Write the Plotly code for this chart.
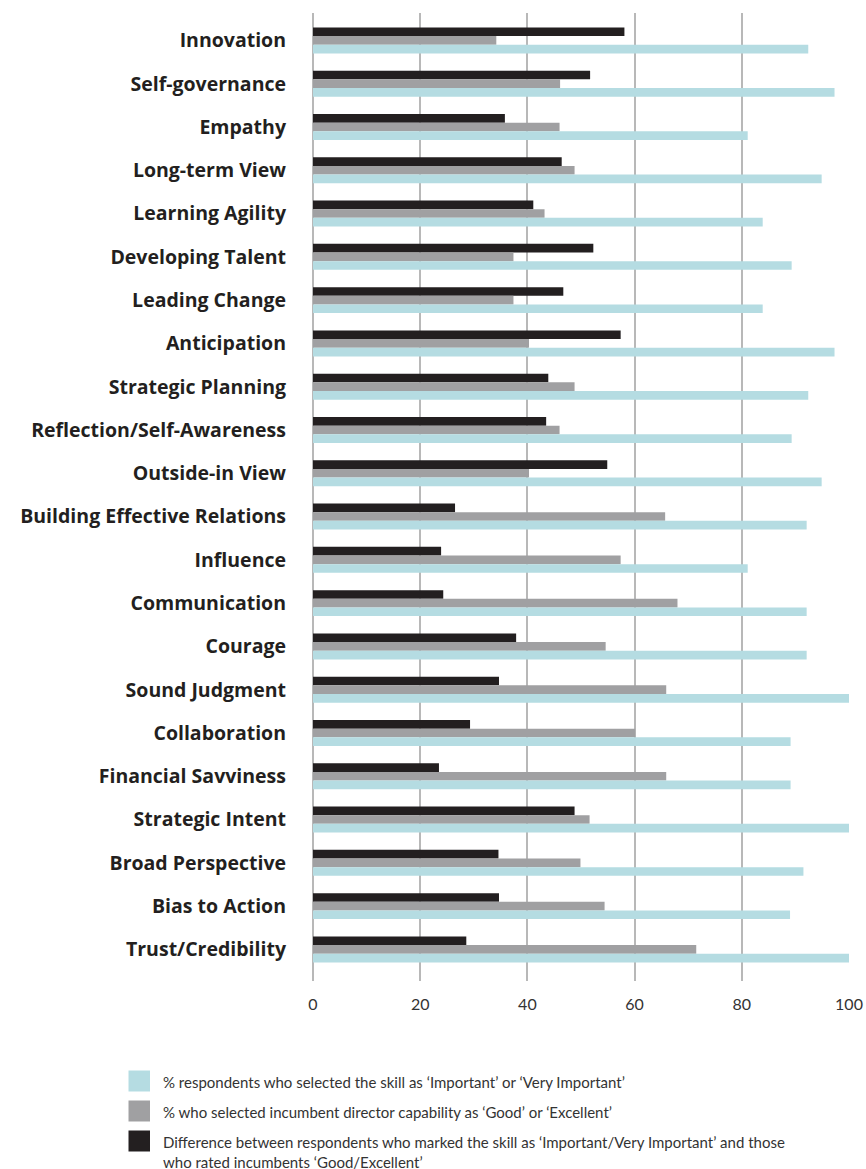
import plotly.graph_objects as go

categories = [
    "Innovation", "Self-governance", "Empathy", "Long-term View", "Learning Agility",
    "Developing Talent", "Leading Change", "Anticipation", "Strategic Planning",
    "Reflection/Self-Awareness", "Outside-in View", "Building Effective Relations",
    "Influence", "Communication", "Courage", "Sound Judgment", "Collaboration",
    "Financial Savviness", "Strategic Intent", "Broad Perspective", "Bias to Action",
    "Trust/Credibility",
]
important = [92.4, 97.3, 81.1, 94.9, 83.9, 89.3, 83.9, 97.3, 92.4, 89.3, 94.9,
             92.1, 81.1, 92.1, 92.1, 100, 89.1, 89.1, 100, 91.5, 89.0, 100]
capability = [34.2, 46.1, 46.0, 48.8, 43.2, 37.4, 37.4, 40.3, 48.8, 46.0, 40.3,
              65.7, 57.4, 68.0, 54.6, 65.9, 60.1, 65.9, 51.6, 49.9, 54.4, 71.5]
difference = [58.1, 51.7, 35.8, 46.4, 41.1, 52.3, 46.7, 57.4, 43.9, 43.5, 54.9,
              26.5, 23.9, 24.3, 37.9, 34.7, 29.3, 23.5, 48.8, 34.6, 34.7, 28.6]
x_ticks = [0, 20, 40, 60, 80, 100]
legend_labels = [
    "% respondents who selected the skill as \u2018Important\u2019 or \u2018Very Important\u2019",
    "% who selected incumbent director capability as \u2018Good\u2019 or \u2018Excellent\u2019",
    "Difference between respondents who marked the skill as \u2018Important/Very Important\u2019 and those<br>who rated incumbents \u2018Good/Excellent\u2019",
]

C_TEAL = "#b5dce2"
C_GRAY = "#a0a0a2"
C_BLACK = "#231f20"

W, Hfig = 866, 1169
ML, MR, MT, MB = 313, 17, 13, 188
PW = W - ML - MR
PH = Hfig - MT - MB

fig = go.Figure()
fig.add_trace(go.Bar(y=categories, x=difference, orientation="h",
                     marker=dict(color=C_BLACK, line_width=0), name="diff"))
fig.add_trace(go.Bar(y=categories, x=capability, orientation="h",
                     marker=dict(color=C_GRAY, line_width=0), name="cap"))
fig.add_trace(go.Bar(y=categories, x=important, orientation="h",
                     marker=dict(color=C_TEAL, line_width=0), name="imp"))

fig.update_layout(
    width=W, height=Hfig, autosize=False,
    margin=dict(l=ML, r=MR, t=MT, b=MB, autoexpand=False),
    paper_bgcolor="white", plot_bgcolor="white",
    barmode="group", bargap=0.4, bargroupgap=0,
    showlegend=False,
    font=dict(family="Lato", color="#231f20"),
)
fig.update_xaxes(
    range=[0, 100], tickvals=x_ticks, showgrid=True, gridcolor="#b8b8b8", gridwidth=1.5,
    zeroline=True, zerolinecolor="#b8b8b8", zerolinewidth=1.5,
    showline=False, ticks="", tickfont=dict(family="Lato", size=16, color="#333333"),
    ticklabelstandoff=12, fixedrange=True, automargin=False,
)
fig.update_yaxes(
    categoryorder="array", categoryarray=categories,
    range=[21.73, -0.633], showgrid=False, zeroline=False, showline=False, ticks="",
    tickfont=dict(family="Open Sans", size=19.5, color="#231f20", weight="bold"),
    ticklabelstandoff=26, fixedrange=True, automargin=False,
)

# legend built from swatches + text
swatch_colors = [C_TEAL, C_GRAY, C_BLACK]
ys = [1081, 1111, 1141]


def px_to_paper_y(v):
    return (Hfig - MB - v) / PH


def px_to_paper_x(v):
    return (v - ML) / PW


for col, lab, yp in zip(swatch_colors, legend_labels, ys):
    fig.add_shape(type="rect", xref="paper", yref="paper",
                  x0=px_to_paper_x(128.5), x1=px_to_paper_x(150),
                  y0=px_to_paper_y(yp + 10.5), y1=px_to_paper_y(yp - 10.5),
                  fillcolor=col, line_width=0)
    fig.add_annotation(xref="paper", yref="paper", x=px_to_paper_x(161), y=px_to_paper_y(yp - 10),
                       xanchor="left", yanchor="top", align="left", showarrow=False,
                       text=lab, font=dict(family="Lato", size=15, color="#333333"))

fig.write_html(
    "out.html",
    config={"displayModeBar": False, "responsive": False},
    post_script="document.body.style.margin='0';document.documentElement.style.overflow='hidden';",
)
